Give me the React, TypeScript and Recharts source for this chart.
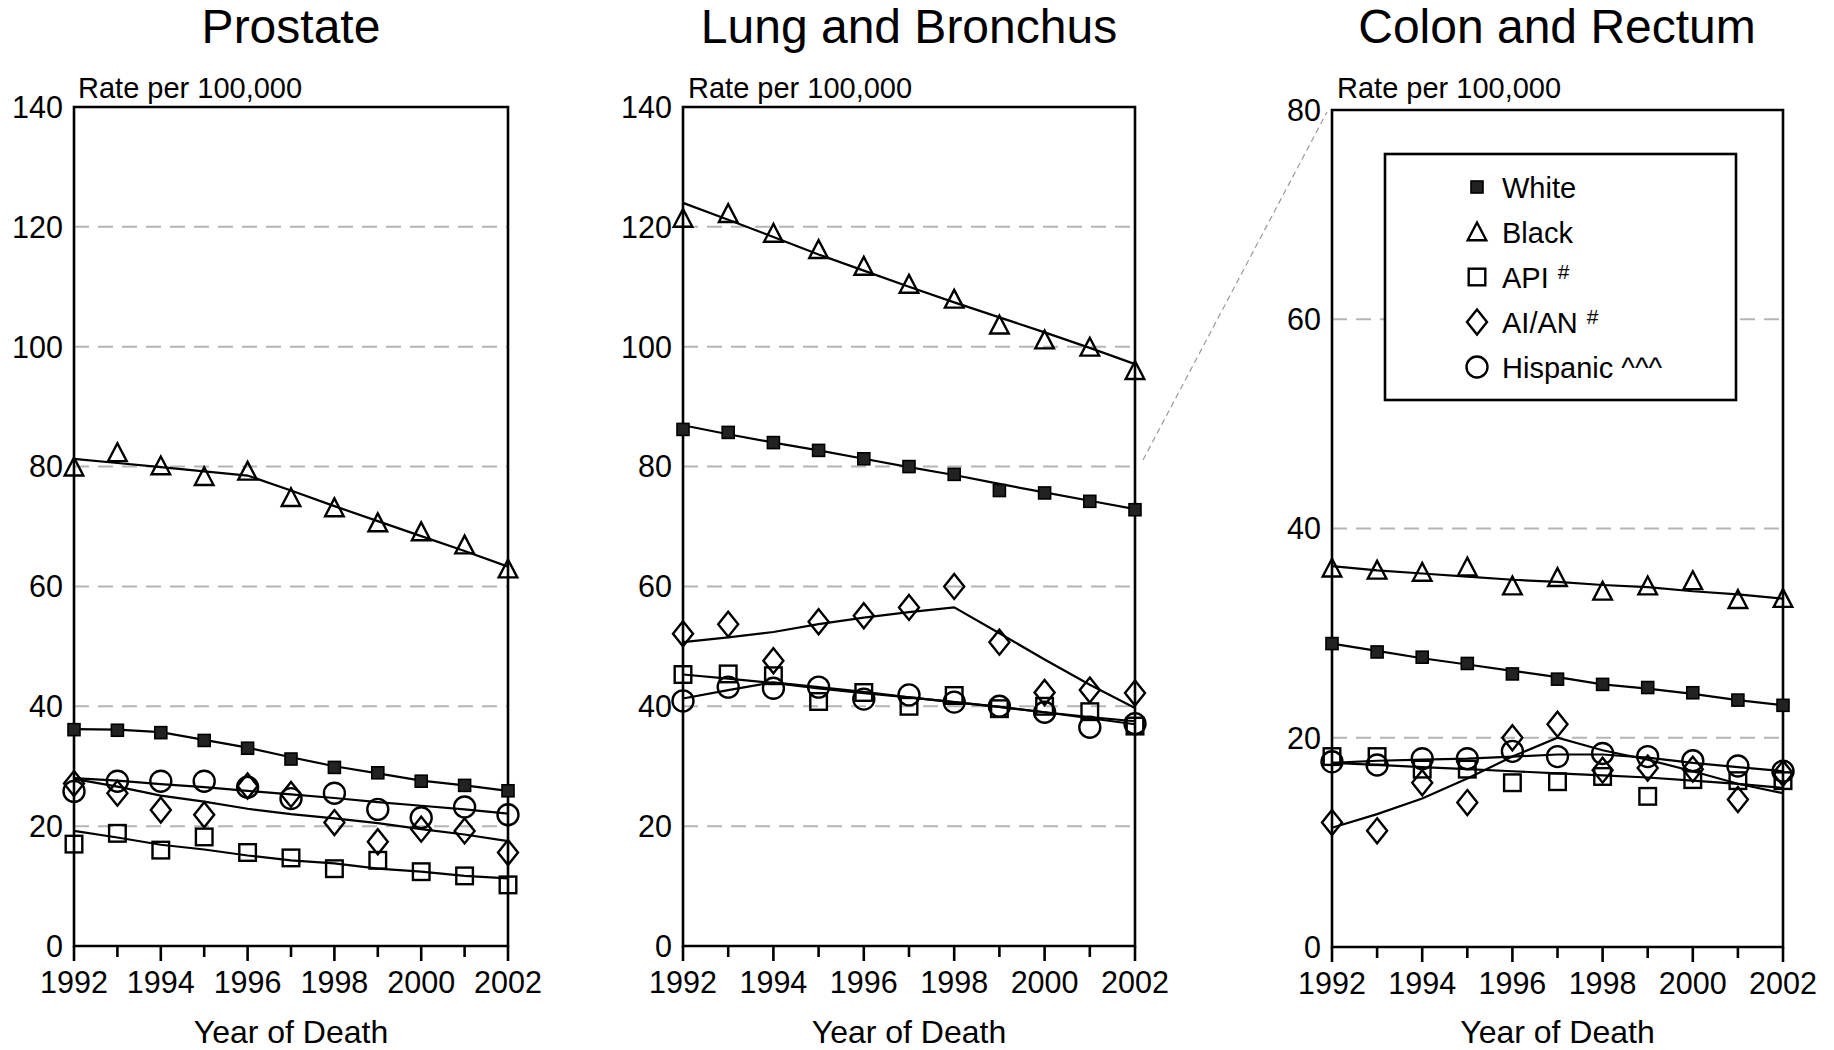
import React from "react";
import {
  ComposedChart,
  Line,
  XAxis,
  YAxis,
  CartesianGrid,
  ReferenceArea,
} from "recharts";

const FONT = '"Liberation Sans", Arial, Helvetica, sans-serif';

const YEARS = [1992, 1993, 1994, 1995, 1996, 1997, 1998, 1999, 2000, 2001, 2002];
const YEAR_LABELS = [1992, 1994, 1996, 1998, 2000, 2002];
const TICKS_140 = [0, 20, 40, 60, 80, 100, 120, 140];
const TICKS_80 = [0, 20, 40, 60, 80];

// Prostate: observed rates (markers) and fitted trends (lines)
const P_WHITE_OBS = [36.1, 36.0, 35.6, 34.3, 33.0, 31.2, 29.8, 28.9, 27.5, 26.8, 25.9];
const P_WHITE_FIT = [36.2, 36.1, 35.7, 34.4, 33.1, 31.5, 30.0, 28.8, 27.6, 26.8, 25.9];
const P_BLACK_OBS = [79.9, 82.3, 80.1, 78.3, 79.2, 74.8, 73.1, 70.6, 69.1, 66.9, 62.9];
const P_BLACK_FIT = [81.3, 80.6, 79.9, 79.2, 78.5, 76.0, 73.4, 70.9, 68.4, 65.9, 63.3];
const P_API_OBS = [17.0, 18.8, 16.0, 18.2, 15.6, 14.7, 12.9, 14.3, 12.4, 11.7, 10.2];
const P_API_FIT = [19.2, 18.1, 16.9, 16.1, 15.1, 14.3, 13.8, 12.9, 12.4, 11.7, 11.3];
const P_AIAN_OBS = [27.1, 25.5, 22.7, 21.9, 26.7, 25.3, 20.6, 17.4, 19.5, 19.2, 15.6];
const P_AIAN_FIT = [27.9, 26.6, 25.1, 24.1, 22.9, 22.0, 21.3, 20.5, 19.5, 18.6, 17.5];
const P_HISP_OBS = [25.8, 27.5, 27.5, 27.5, 26.5, 24.6, 25.5, 22.8, 21.4, 23.2, 21.9];
const P_HISP_FIT = [28.0, 27.6, 27.0, 26.5, 25.9, 25.3, 24.7, 24.0, 23.4, 22.8, 22.1];

// Lung and Bronchus
const L_WHITE_OBS = [86.2, 85.7, 84.0, 82.7, 81.3, 80.0, 78.7, 76.0, 75.6, 74.2, 72.8];
const L_WHITE_FIT = [86.9, 85.4, 84.0, 82.7, 81.3, 79.9, 78.6, 77.1, 75.7, 74.3, 72.9];
const L_BLACK_OBS = [121.4, 122.2, 118.9, 116.2, 113.4, 110.4, 107.9, 103.6, 101.1, 99.9, 96.0];
const L_BLACK_FIT = [124.0, 121.2, 118.3, 115.4, 112.7, 110.0, 107.4, 104.9, 102.4, 99.8, 97.1];
const L_API_OBS = [45.3, 45.4, 45.1, 40.8, 42.3, 40.0, 41.8, 39.6, 40.0, 39.1, 36.7];
const L_API_FIT = [45.3, 44.6, 43.9, 43.0, 42.2, 41.5, 40.7, 39.9, 39.0, 38.2, 37.5];
const L_AIAN_OBS = [52.1, 53.7, 47.6, 54.1, 55.1, 56.5, 60.0, 50.7, 42.3, 42.7, 42.2];
const L_AIAN_FIT = [50.7, 51.5, 52.4, 53.7, 54.8, 55.7, 56.5, 52.2, 47.8, 43.6, 39.7];
const L_HISP_OBS = [40.9, 43.2, 43.0, 43.2, 41.2, 41.9, 40.7, 40.0, 39.0, 36.5, 37.1];
const L_HISP_FIT = [41.3, 42.7, 44.0, 43.2, 42.4, 41.5, 40.7, 39.9, 39.0, 38.0, 37.0];

// Colon and Rectum
const C_WHITE_OBS = [29.0, 28.2, 27.7, 27.1, 26.1, 25.6, 25.1, 24.8, 24.3, 23.6, 23.1];
const C_WHITE_FIT = [29.0, 28.3, 27.6, 27.0, 26.4, 25.8, 25.1, 24.7, 24.2, 23.6, 23.1];
const C_BLACK_OBS = [36.2, 36.0, 35.8, 36.3, 34.5, 35.3, 34.0, 34.5, 35.0, 33.2, 33.3];
const C_BLACK_FIT = [36.4, 36.0, 35.7, 35.4, 35.1, 34.9, 34.6, 34.4, 34.0, 33.7, 33.3];
const C_API_OBS = [18.2, 18.2, 17.0, 17.0, 15.7, 15.8, 16.3, 14.4, 16.0, 15.9, 15.9];
const C_API_FIT = [17.6, 17.4, 17.2, 17.0, 16.8, 16.6, 16.4, 16.2, 15.9, 15.6, 15.2];
const C_AIAN_OBS = [11.9, 11.1, 15.7, 13.8, 20.0, 21.3, 16.9, 17.1, 17.0, 14.1, 16.6];
const C_AIAN_FIT = [11.4, 12.7, 14.2, 16.1, 18.2, 20.0, 18.8, 17.9, 16.8, 15.6, 14.7];
const C_HISP_OBS = [17.7, 17.4, 18.0, 18.0, 18.7, 18.2, 18.5, 18.2, 17.8, 17.3, 16.8];
const C_HISP_FIT = [17.6, 17.8, 17.9, 18.0, 18.2, 18.4, 18.4, 18.1, 17.6, 17.2, 16.8];

type Shape = "filled" | "triangle" | "square" | "diamond" | "circle";

const GROUPS: { key: string; label: string; shape: Shape; sup?: string }[] = [
  { key: "white", label: "White", shape: "filled" },
  { key: "black", label: "Black", shape: "triangle" },
  { key: "api", label: "API", shape: "square", sup: "#" },
  { key: "aian", label: "AI/AN", shape: "diamond", sup: "#" },
  { key: "hisp", label: "Hispanic ^^^", shape: "circle" },
];

function Marker({ shape, cx, cy }: { shape: Shape; cx: number; cy: number }) {
  const sw = 2.4;
  if (shape === "filled")
    return <rect x={cx - 6} y={cy - 6} width={12} height={12} fill="#222" stroke="#000" strokeWidth={1.6} />;
  if (shape === "triangle")
    return (
      <polygon
        points={`${cx},${cy - 9.5} ${cx - 9.3},${cy + 8.3} ${cx + 9.3},${cy + 8.3}`}
        fill="none"
        stroke="#000"
        strokeWidth={sw}
      />
    );
  if (shape === "square")
    return <rect x={cx - 8.3} y={cy - 8.3} width={16.6} height={16.6} fill="none" stroke="#000" strokeWidth={sw} />;
  if (shape === "diamond")
    return (
      <polygon
        points={`${cx},${cy - 12.5} ${cx + 10},${cy} ${cx},${cy + 12.5} ${cx - 10},${cy}`}
        fill="none"
        stroke="#000"
        strokeWidth={sw}
      />
    );
  return <circle cx={cx} cy={cy} r={10.5} fill="none" stroke="#000" strokeWidth={sw} />;
}

function YearTick(props: any) {
  const { x, y, payload } = props;
  const axisY = y - 6;
  const labeled = YEAR_LABELS.includes(payload.value);
  return (
    <g>
      <line x1={x} x2={x} y1={axisY} y2={axisY + (labeled ? 15 : 11)} stroke="#000" strokeWidth={2.6} />
      {labeled && (
        <text x={x} y={axisY + 47} textAnchor="middle" fontSize={30.5} fontFamily={FONT} fill="#000">
          {payload.value}
        </text>
      )}
    </g>
  );
}

interface Series {
  key: string;
  obs: number[];
  fit: number[];
}

interface PanelProps {
  left: number;
  width: number;
  yAxisWidth: number;
  top: number;
  xAxisHeight: number;
  yMax: number;
  yTicks: number[];
  series: Series[];
}

function Panel({ left, width, yAxisWidth, top, xAxisHeight, yMax, yTicks, series }: PanelProps) {
  const data = YEARS.map((year, i) => {
    const row: Record<string, number> = { year };
    series.forEach((s) => {
      row[s.key + "Obs"] = s.obs[i];
      row[s.key + "Fit"] = s.fit[i];
    });
    return row;
  });

  return (
    <div style={{ position: "absolute", left, top: 0 }}>
      <ComposedChart width={width} height={1050} data={data} margin={{ top, right: 40, bottom: 0, left: 0 }}>
        <CartesianGrid vertical={false} stroke="#b5b5b5" strokeWidth={2} strokeDasharray="15 9" />
        <XAxis
          dataKey="year"
          type="number"
          domain={[1992, 2002]}
          ticks={YEARS}
          interval={0}
          tick={<YearTick />}
          tickLine={false}
          axisLine={false}
          tickSize={6}
          tickMargin={0}
          height={xAxisHeight}
          label={{
            value: "Year of Death",
            position: "insideBottom",
            offset: 7,
            fontSize: 32,
            fill: "#000",
            fontFamily: FONT,
          }}
        />
        <YAxis
          type="number"
          domain={[0, yMax]}
          ticks={yTicks}
          interval={0}
          tickLine={false}
          axisLine={false}
          tickSize={6}
          tickMargin={5}
          width={yAxisWidth}
          tick={{ fontSize: 30.5, fill: "#000", fontFamily: FONT }}
        />
        <ReferenceArea x1={1992} x2={2002} y1={0} y2={yMax} fill="none" fillOpacity={0} stroke="#000" strokeWidth={2.6} />
        {series.map((s) => (
          <Line
            key={s.key + "Fit"}
            dataKey={s.key + "Fit"}
            type="linear"
            stroke="#000"
            strokeWidth={2.2}
            dot={false}
            activeDot={false}
            isAnimationActive={false}
          />
        ))}
        {series.map((s) => {
          const shape = GROUPS.find((g) => g.key === s.key)!.shape;
          return (
            <Line
              key={s.key + "Obs"}
              dataKey={s.key + "Obs"}
              type="linear"
              stroke="none"
              activeDot={false}
              isAnimationActive={false}
              dot={(p: any) => <Marker key={`${s.key}-${p.index}`} shape={shape} cx={p.cx} cy={p.cy} />}
            />
          );
        })}
      </ComposedChart>
    </div>
  );
}

const PROSTATE: Series[] = [
  { key: "white", obs: P_WHITE_OBS, fit: P_WHITE_FIT },
  { key: "black", obs: P_BLACK_OBS, fit: P_BLACK_FIT },
  { key: "api", obs: P_API_OBS, fit: P_API_FIT },
  { key: "aian", obs: P_AIAN_OBS, fit: P_AIAN_FIT },
  { key: "hisp", obs: P_HISP_OBS, fit: P_HISP_FIT },
];
const LUNG: Series[] = [
  { key: "white", obs: L_WHITE_OBS, fit: L_WHITE_FIT },
  { key: "black", obs: L_BLACK_OBS, fit: L_BLACK_FIT },
  { key: "api", obs: L_API_OBS, fit: L_API_FIT },
  { key: "aian", obs: L_AIAN_OBS, fit: L_AIAN_FIT },
  { key: "hisp", obs: L_HISP_OBS, fit: L_HISP_FIT },
];
const COLON: Series[] = [
  { key: "white", obs: C_WHITE_OBS, fit: C_WHITE_FIT },
  { key: "black", obs: C_BLACK_OBS, fit: C_BLACK_FIT },
  { key: "api", obs: C_API_OBS, fit: C_API_FIT },
  { key: "aian", obs: C_AIAN_OBS, fit: C_AIAN_FIT },
  { key: "hisp", obs: C_HISP_OBS, fit: C_HISP_FIT },
];

export default function App() {
  return (
    <div
      style={{
        position: "absolute",
        left: 0,
        top: 0,
        width: 1834,
        height: 1050,
        background: "#fff",
        overflow: "hidden",
        fontFamily: FONT,
      }}
    >
      <Panel left={0} width={548} yAxisWidth={74} top={107} xAxisHeight={104} yMax={140} yTicks={TICKS_140} series={PROSTATE} />
      <Panel left={583} width={592} yAxisWidth={100} top={107} xAxisHeight={104} yMax={140} yTicks={TICKS_140} series={LUNG} />
      <Panel left={1232} width={591} yAxisWidth={100} top={110} xAxisHeight={103} yMax={80} yTicks={TICKS_80} series={COLON} />

      <svg
        width={1834}
        height={1050}
        style={{ position: "absolute", left: 0, top: 0, pointerEvents: "none" }}
        fontFamily={FONT}
      >
        <text x={291} y={43} textAnchor="middle" fontSize={48} fill="#000">Prostate</text>
        <text x={909} y={43} textAnchor="middle" fontSize={48} fill="#000">Lung and Bronchus</text>
        <text x={1557} y={43} textAnchor="middle" fontSize={48} fill="#000">Colon and Rectum</text>

        <text x={78} y={98} fontSize={29} fill="#000">Rate per 100,000</text>
        <text x={688} y={98} fontSize={29} fill="#000">Rate per 100,000</text>
        <text x={1337} y={98} fontSize={29} fill="#000">Rate per 100,000</text>

        <line x1={1143} y1={460} x2={1327} y2={112} stroke="#9a9a9a" strokeWidth={1.2} strokeDasharray="6 4" />

        <rect x={1385} y={154} width={351} height={246} fill="#fff" stroke="#000" strokeWidth={2.6} />
        {GROUPS.map((g, i) => {
          const cy = 187 + i * 45;
          return (
            <g key={g.key}>
              <Marker shape={g.shape} cx={1477} cy={cy} />
              <text x={1502} y={cy + 11} fontSize={29} fill="#000">
                {g.label}
                {g.sup && (
                  <tspan fontSize={21} dx={9} dy={-9}>
                    {g.sup}
                  </tspan>
                )}
              </text>
            </g>
          );
        })}
      </svg>
    </div>
  );
}
